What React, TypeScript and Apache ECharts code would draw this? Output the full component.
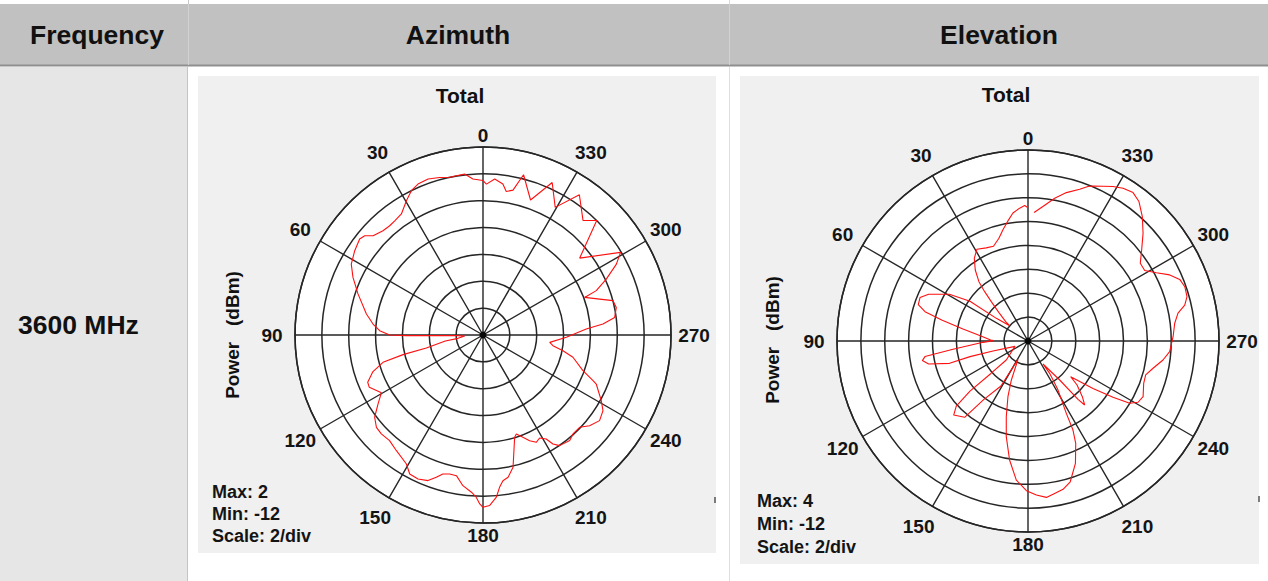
import React, { useEffect, useRef } from "react";
import * as echarts from "echarts";

// ---------- data ----------
const headerLabels = ["Frequency", "Azimuth", "Elevation"];
const frequencyLabel = "3600 MHz";
const plotTitle = "Total";
const radialName = "Power   (dBm)";
const angleTicks = [0, 30, 60, 90, 120, 150, 180, 210, 240, 270, 300, 330];
const angleMax = 360;
const angleStep = 30;
const dbStep = 2;

const azRange = [-12, 2];
const elRange = [-12, 4];
const azStats = ["Max: 2", "Min: -12", "Scale: 2/div"];
const elStats = ["Max: 4", "Min: -12", "Scale: 2/div"];

// Azimuth: angle (deg, counter-clockwise from top) and power (dBm)
const azAngles = [
  0, 3.7, 6.5, 9.5, 11.9, 15.4, 19.4, 23.3, 26.4, 29.7, 34.0, 37.7, 40.5, 43.8, 47.9, 50.0, 52.1,
  56.7, 61.7, 66.1, 71.8, 79.8, 84.3, 87.6, 90.0, 90.5, 91.4, 93.1, 97.6, 99.1, 102.9, 103.8,
  105.3, 108.5, 112.3, 114.7, 119.6, 123.3, 127.2, 130.9, 134.2, 138.5, 143.2, 149.3, 152.2,
  155.7, 159.3, 161.8, 163.9, 166.5, 169.3, 172.4, 175.8, 177.6, 178.9, 180, 182.2, 184.7, 186.2,
  187.8, 190.0, 192.8, 197.2, 198.6, 201.3, 203.8, 206.4, 208.8, 211.3, 212.7, 214.7, 219.4,
  222.3, 226.3, 229.6, 233.7, 237.8, 241.0, 246.6, 247.5, 250.4, 256.1, 258.9, 261.3, 263.7,
  268.4, 273.3, 275.2, 277.6, 281.7, 284.8, 287.1, 290.3, 291.4, 294.4, 298.0, 301.0, 308.5,
  315.2, 318.9, 325.5, 330.5, 335.6, 340.6, 345.8, 348.3, 350.8, 352.5, 355.7, 358.7, 360,
];
const azPower = [
  -0.5, -0.36, 0.06, 0.03, 0.0, 0.17, 0.31, 0.24, 0.0, -0.49, -1.13, -1.25, -1.3, -1.24, -0.97,
  -0.5, -0.36, -0.57, -0.86, -1.41, -2.2, -3.18, -3.77, -4.3, -5.05, -6.29, -10.0, -10.64,
  -10.12, -9.16, -7.67, -5.87, -4.28, -3.34, -2.72, -2.68, -3.3, -2.65, -1.87, -1.5, -1.44, -1.5,
  -1.24, -0.83, -0.3, -0.24, -0.41, -0.85, -1.23, -1.36, -1.34, -0.68, -0.26, 0.09, 0.58, 0.83,
  0.71, 0.12, -0.59, -1.05, -1.24, -1.9, -4.03, -4.22, -3.82, -3.4, -3.08, -3.25, -2.94, -2.36,
  -1.98, -1.83, -2.04, -2.05, -1.58, -1.23, -1.44, -1.93, -2.81, -3.13, -4.1, -5.1, -5.93, -6.73,
  -7.0, -5.79, -4.3, -3.03, -2.11, -1.86, -1.99, -2.91, -3.93, -2.94, -1.92, -0.75, -0.05, -2.8,
  0.02, -0.67, 0.67, -1.08, 0.47, -1.34, 0.31, -0.98, -1.17, -0.66, -0.35, -0.76, -0.5,
];

// Elevation: angle (deg) and power (dBm)
const elAngles = [
  0.3, 1.4, 3.6, 6.7, 9.5, 12.7, 15.8, 20.0, 24.2, 29.1, 33.0, 36.6, 39.6, 41.3, 43.0, 45.7, 49.1,
  50.1, 54.4, 55.6, 59.3, 64.8, 68.1, 71.7, 74.1, 76.4, 79.5, 83.6, 88.5, 89.4, 91.7, 96.3, 98.6,
  100.5, 103.0, 105.9, 105.1, 105.9, 112.3, 131.2, 131.2, 130.8, 132.2, 134.9, 140.3, 142.9,
  149.0, 151.4, 156.9, 160.2, 164.0, 167.2, 171.2, 175.2, 179.4, 183.1, 186.7, 189.9, 193.3,
  196.7, 201.2, 205.0, 206.8, 207.9, 211.5, 213.8, 213.1, 219.1, 220.6, 221.5, 224.3, 228.1,
  230.1, 233.9, 236.5, 238.5, 240.9, 244.2, 249.9, 253.9, 257.7, 262.0, 265.7, 271.7, 276.9,
  280.5, 282.9, 285.6, 289.1, 292.1, 295.0, 298.0, 301.1, 304.7, 308.7, 313.1, 317.4, 321.5,
  324.7, 328.1, 331.2, 337.2, 338.8, 341.2, 345.5, 349.4, 353.4, 357.3,
];
const elPower = [
  -0.8, -0.65, -0.85, -1.2, -1.8, -2.45, -3.05, -3.55, -3.45, -3.2, -3.74, -4.59, -5.55, -6.5,
  -7.49, -8.6, -9.53, -10.0, -8.74, -6.11, -4.34, -2.8, -2.25, -2.32, -3.03, -4.61, -6.46, -7.98,
  -8.87, -9.12, -8.23, -5.68, -3.27, -3.0, -3.46, -5.17, -6.97, -8.95, -10.82, -9.58, -7.84,
  -5.58, -3.89, -3.21, -3.69, -5.84, -7.6, -10.25, -8.45, -7.04, -5.4, -3.78, -1.91, -0.31, 0.54,
  0.92, 1.19, 0.96, 0.77, 0.31, -1.01, -2.54, -3.64, -5.14, -7.18, -8.74, -9.7, -7.79, -5.56,
  -4.84, -5.48, -6.48, -7.34, -5.26, -3.46, -2.01, -1.45, -1.29, -1.68, -1.74, -1.28, -0.58,
  -0.1, 0.16, 0.38, 0.78, 1.47, 1.83, 1.9, 1.72, 1.1, 0.18, -0.58, -0.56, 0.2, 1.2, 2.15, 2.93,
  3.23, 3.07, 2.77, 2.08, 1.88, 1.43, 0.84, 0.16, -0.61, -1.23,
];

// ---------- styling ----------
const FONT = "'Liberation Sans', Arial, Helvetica, sans-serif";
const GRID = "#262626";
const LABEL_COLOR = "#141414";
const LABEL_SIZE = 19;
const LABEL_MARGIN = -4;
const W = 1268;
const H = 581;
const AZ_CENTER = [483, 335];
const AZ_R = 188;
const EL_CENTER = [1028, 341];
const EL_R = 191;

// Per-tick rich styles so each angle label sits centred on a ring just outside the plot
function labelRich(R: number) {
  const rich: Record<string, any> = {};
  angleTicks.forEach((t) => {
    const rad = (t * Math.PI) / 180;
    const dx = -Math.sin(rad);
    const dy = -Math.cos(rad);
    const w = String(t).length * LABEL_SIZE * 0.556;
    const h = LABEL_SIZE;
    const a = R + LABEL_MARGIN;
    const ax = a * dx;
    const ay = a * dy;
    const vertical = Math.abs(dx) < 0.3;
    const rho = vertical ? R + 12 : R + 23;
    let pl = 0, pr = 0, pt = 0, pb = 0;
    if (dx >= 0.3) pl = Math.max(0, rho * dx - (ax + w / 2));
    else if (dx <= -0.3) pr = Math.max(0, ax - w / 2 - rho * dx);
    if (dy >= 0.3) pt = Math.max(0, rho * dy - (ay + h / 2));
    else if (dy <= -0.3) pb = Math.max(0, ay - h / 2 - rho * dy);
    rich["t" + t] = {
      padding: [pt, pr, pb, pl],
      fontFamily: FONT,
      fontWeight: "bold",
      fontSize: LABEL_SIZE,
      color: LABEL_COLOR,
    };
  });
  return rich;
}

function polarAxes(idx: number, range: number[], R: number) {
  return {
    angle: {
      polarIndex: idx,
      type: "value",
      min: 0,
      max: angleMax,
      interval: angleStep,
      startAngle: 90,
      clockwise: false,
      axisLine: { show: true, lineStyle: { color: GRID, width: 1.5 } },
      axisTick: { show: false },
      splitLine: { show: true, lineStyle: { color: GRID, width: 1.4 } },
      axisLabel: {
        formatter: (v: number) => (v >= angleMax ? "" : `{t${v}|${v}}`),
        fontFamily: FONT,
        fontWeight: "bold",
        fontSize: LABEL_SIZE,
        color: LABEL_COLOR,
        margin: LABEL_MARGIN,
        rich: labelRich(R),
      },
    },
    radius: {
      polarIndex: idx,
      type: "value",
      min: range[0],
      max: range[1],
      interval: dbStep,
      axisLine: { show: false },
      axisTick: { show: false },
      axisLabel: { show: false },
      splitLine: { show: true, lineStyle: { color: GRID, width: 1.5 } },
    },
  };
}

function statTexts(lines: string[], x: number, y0: number, gap: number) {
  return lines.map((t, i) => ({
    type: "text",
    z: 100,
    x,
    y: y0 + i * gap,
    style: {
      text: t,
      fontFamily: FONT,
      fontWeight: "bold",
      fontSize: 18,
      fill: LABEL_COLOR,
      textAlign: "left",
      textVerticalAlign: "middle",
    },
  }));
}

function centerText(text: string, x: number, y: number, size: number, extra: any = {}) {
  return {
    type: "text",
    z: 100,
    x,
    y,
    ...extra,
    style: {
      text,
      fontFamily: FONT,
      fontWeight: "bold",
      fontSize: size,
      fill: "#111111",
      textAlign: "center",
      textVerticalAlign: "middle",
    },
  };
}

function rect(x: number, y: number, w: number, h: number, fill: string) {
  return { type: "rect", z: -100, silent: true, shape: { x, y, width: w, height: h }, style: { fill } };
}
function vline(x: number, y1: number, y2: number, stroke: string, lw = 1) {
  return {
    type: "line",
    z: -90,
    silent: true,
    shape: { x1: x, y1, x2: x, y2 },
    style: { stroke, lineWidth: lw },
  };
}
function disc(c: number[], r: number) {
  return { type: "circle", z: -80, silent: true, shape: { cx: c[0], cy: c[1], r }, style: { fill: "#ffffff" } };
}

export default function App() {
  const ref = useRef<HTMLDivElement>(null);

  useEffect(() => {
    if (!ref.current) return;
    const chart = echarts.init(ref.current, undefined, { renderer: "svg" });
    const az = polarAxes(0, azRange, AZ_R);
    const el = polarAxes(1, elRange, EL_R);

    const graphics: any[] = [
      // table structure
      rect(0, 4, W, 61, "#c0c1c0"),
      { type: "line", z: -90, silent: true, shape: { x1: 0, y1: 65.5, x2: W, y2: 65.5 }, style: { stroke: "#8f8f8f", lineWidth: 2 } },
      vline(188.5, 0, 4, "#c8c8c8"),
      vline(729.5, 0, 4, "#d8d8d8"),
      vline(188.5, 4, 65, "#d2d2d2"),
      vline(729.5, 4, 65, "#d2d2d2"),
      rect(0, 67, 187, H - 67, "#e6e6e6"),
      vline(187.5, 67, H, "#c4c4c4"),
      vline(729.5, 67, H, "#dedede"),
      rect(198, 76, 518, 477, "#f0f0f0"),
      rect(740, 76, 519, 488, "#f0f0f0"),
      vline(715, 497, 503, "#555555", 1.5),
      vline(1259, 496, 502, "#555555", 1.5),
      disc(AZ_CENTER, AZ_R),
      disc(EL_CENTER, EL_R),
      // headers
      centerText(headerLabels[0], 97, 35, 26.5),
      centerText(headerLabels[1], 458, 35, 26.5),
      centerText(headerLabels[2], 999, 35, 26.5),
      {
        type: "text",
        z: 100,
        x: 18,
        y: 325,
        style: {
          text: frequencyLabel,
          fontFamily: FONT,
          fontWeight: "bold",
          fontSize: 26.5,
          fill: "#111111",
          textAlign: "left",
          textVerticalAlign: "middle",
        },
      },
      // plot titles
      centerText(plotTitle, 460, 95, 21),
      centerText(plotTitle, 1006, 94, 21),
      // radial axis names
      centerText(radialName, 232, 335, 19, { rotation: Math.PI / 2 }),
      centerText(radialName, 772, 340, 19, { rotation: Math.PI / 2 }),
      ...statTexts(azStats, 212, 492, 22),
      ...statTexts(elStats, 757, 501, 23),
    ];

    chart.setOption({
      animation: false,
      backgroundColor: "#ffffff",
      polar: [
        { center: AZ_CENTER, radius: AZ_R },
        { center: EL_CENTER, radius: EL_R },
      ],
      angleAxis: [az.angle, el.angle],
      radiusAxis: [az.radius, el.radius],
      graphic: { elements: graphics },
      series: [
        {
          type: "line",
          coordinateSystem: "polar",
          polarIndex: 0,
          data: azAngles.map((a, i) => [azPower[i], a]),
          symbol: "none",
          silent: true,
          z: 5,
          lineStyle: { color: "#ff1010", width: 1.1 },
        },
        {
          type: "line",
          coordinateSystem: "polar",
          polarIndex: 1,
          data: elAngles.map((a, i) => [elPower[i], a]),
          symbol: "none",
          silent: true,
          z: 5,
          lineStyle: { color: "#ff1010", width: 1.1 },
        },
        {
          type: "scatter",
          coordinateSystem: "polar",
          polarIndex: 0,
          data: [[azRange[0], 0]],
          symbolSize: 7,
          silent: true,
          z: 6,
          itemStyle: { color: "#000000" },
        },
        {
          type: "scatter",
          coordinateSystem: "polar",
          polarIndex: 1,
          data: [[elRange[0], 0]],
          symbolSize: 7,
          silent: true,
          z: 6,
          itemStyle: { color: "#000000" },
        },
      ],
    });
    return () => chart.dispose();
  }, []);

  return (
    <div
      ref={ref}
      style={{ position: "absolute", left: 0, top: 0, width: W, height: H }}
    />
  );
}
